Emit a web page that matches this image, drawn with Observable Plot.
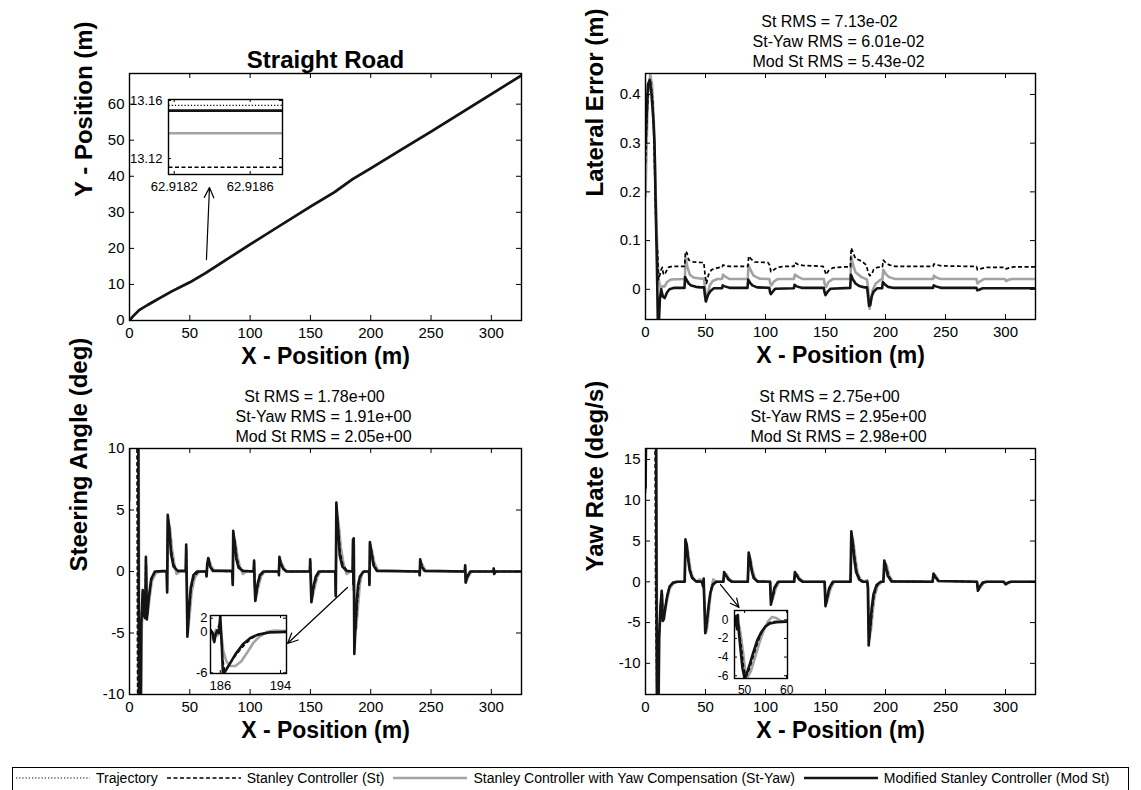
<!DOCTYPE html>
<html><head><meta charset="utf-8">
<script src="https://cdn.jsdelivr.net/npm/d3@7"></script>
<script src="https://cdn.jsdelivr.net/npm/@observablehq/plot@0.6"></script>
<style>
html,body{margin:0;padding:0;background:#fff;}
#fig{position:relative;width:1141px;height:790px;overflow:hidden;background:#fff;font-family:"Liberation Sans",Arial,Helvetica,sans-serif;}
#fig svg{position:absolute;}
#legend{position:absolute;left:12px;top:767px;width:1117px;height:34px;border:1px solid #000;background:#fff;display:flex;align-items:flex-start;box-sizing:border-box;padding:0 0 0 3px;white-space:nowrap;font-size:14px;line-height:20px;}
#legend .item{display:flex;align-items:center;margin-right:9px;}
#legend .item svg{position:static;margin-right:6px;}
</style></head><body><div id="fig"></div>
<script>
// ---------------- DATA ----------------
const seriesNames = ["Trajectory", "Stanley Controller (St)", "Stanley Controller with Yaw Compensation (St-Yaw)", "Modified Stanley Controller (Mod St)"];
const xTicksMain = [0, 50, 100, 150, 200, 250, 300];

// Straight road
const roadX = [0, 3, 8, 15, 25, 35, 50, 63, 80, 100, 120, 150, 170, 185, 200, 225, 250, 275, 300, 325];
const roadY = [0, 1.2, 2.9, 4.3, 6.2, 8.1, 10.6, 13.15, 16.8, 21.1, 25.3, 31.6, 35.6, 39.2, 42.2, 47.3, 52.4, 57.6, 62.8, 68.0];
const roadYTicks = [0, 10, 20, 30, 40, 50, 60];
// road inset (zoom near x = 62.918)
const roadInsetX = [62.91817, 62.91877];
const roadInsetTraj = [13.1566, 13.1566];
const roadInsetSt = [13.114, 13.114];
const roadInsetStYaw = [13.1374, 13.1374];
const roadInsetMod = [13.153, 13.153];
const roadInsetXTicks = [62.9182, 62.9186];
const roadInsetYTicks = [13.12, 13.16];
const roadArrow = [{x1: 63.8, y1: 16.9, x2: 66.3, y2: 36.9}];

// Lateral error
const latRms = ["St RMS = 7.13e-02", "St-Yaw RMS = 6.01e-02", "Mod St RMS = 5.43e-02"];
const latYTicks = [0, 0.1, 0.2, 0.3, 0.4];
const latMod = [[0,0.30],[1,0.36],[2,0.42],[3.5,0.43],[5,0.40],[6.5,0.35],[7.5,0.30],[8.5,0.17],[9.5,0.05],[10.3,-0.066],[11.2,-0.066],[12,-0.02],[13,0.0],[14.5,-0.015],[16,-0.018],[18,-0.006],[20,0.0],[24,0.003],
[32.5,0.003],[33,0.025],[34,0.02],[36,0.012],[38,0.008],[42,0.005],[46,0.004],
[48.8,0.004],[49.5,-0.012],[50.3,-0.025],[52,-0.012],[54,-0.004],[57,0.002],
[63.8,0.002],[64.3,0.008],[66,0.006],[70,0.003],
[85,0.003],[85.6,0.02],[87,0.014],[89,0.008],[93,0.004],
[103.2,0.003],[103.8,-0.006],[104.5,-0.01],[106,-0.005],[108,0.001],
[123.6,0.002],[124.2,0.009],[126,0.006],[130,0.003],
[148.6,0.003],[149.2,-0.006],[150,-0.012],[151.5,-0.006],[154,0.001],
[170.6,0.003],[171.2,0.03],[172.5,0.022],[175,0.012],[178,0.007],[182,0.004],
[184.6,0.004],[185.3,-0.01],[186.3,-0.034],[187.3,-0.032],[188.5,-0.015],[190,-0.005],[193,0.002],
[197.2,0.002],[197.8,0.015],[199.5,0.01],[202,0.005],[206,0.003],
[239.6,0.003],[240.2,0.008],[242,0.006],[246,0.003],
[275.8,0.003],[276.5,-0.002],[278,-0.001],[281,0.002],
[325,0.002]];
const latStYaw = [[0,0.19],[1,0.3],[2,0.4],[4,0.44],[5.5,0.42],[7,0.34],[8,0.25],[9,0.15],[10,0.07],[11,0.02],[12,0.008],[13,0.0],[14,0.006],[16,0.006],[18,0.015],[21,0.02],
[32.8,0.021],[33.4,0.065],[35,0.045],[37,0.03],[40,0.024],[46,0.022],
[48.8,0.022],[49.6,0.0],[50.6,-0.025],[52,-0.008],[53.5,0.008],[56,0.017],[60,0.021],
[63.8,0.021],[64.6,0.03],[66.5,0.026],[70,0.021],
[85.2,0.021],[85.8,0.05],[87.5,0.04],[90,0.028],[95,0.022],
[103.2,0.021],[104,0.012],[105,0.008],[107,0.016],[110,0.021],
[123.6,0.021],[124.5,0.03],[127,0.026],[131,0.021],
[148.6,0.021],[149.4,0.01],[150.5,0.005],[152.5,0.015],[156,0.021],
[170.8,0.021],[171.4,0.068],[173,0.05],[175,0.035],[180,0.025],
[184.6,0.02],[185.6,0.0],[186.8,-0.04],[188,-0.02],[189.5,0.0],[192,0.012],[196,0.02],
[197.4,0.02],[198.2,0.04],[200,0.032],[203,0.025],[208,0.021],
[239.6,0.021],[240.4,0.028],[242.5,0.024],[246,0.021],
[275.8,0.021],[276.6,0.012],[278.5,0.016],[282,0.021],
[299.5,0.021],[300.5,0.017],[302,0.019],[305,0.021],
[325,0.021]];
const latSt = [[0,0.26],[1,0.34],[2.5,0.42],[4,0.43],[6,0.39],[7,0.32],[8,0.2],[9,0.1],[10,0.08],[10.8,0.02],[12,0.03],[13,0.04],[14,0.045],[15,0.03],[16.5,0.033],[19,0.045],[22,0.047],
[32.6,0.047],[33.3,0.078],[34.5,0.075],[36,0.06],[40,0.056],[47,0.055],
[48.6,0.055],[49.6,0.03],[50.8,0.012],[52.5,0.03],[55,0.04],[60,0.044],[64,0.046],
[64.6,0.05],[67,0.048],[70,0.047],
[85.3,0.047],[86,0.068],[88,0.062],[91,0.056],[102,0.055],
[103.4,0.05],[104.5,0.036],[107,0.04],[110,0.045],[115,0.047],
[123.6,0.047],[124.5,0.055],[127,0.051],[131,0.049],[148,0.047],
[149.2,0.04],[150.5,0.03],[152.5,0.038],[156,0.044],[165,0.046],
[170.8,0.046],[171.4,0.085],[173,0.075],[175,0.063],[180,0.058],[184,0.05],
[185.5,0.035],[186.8,0.028],[188.5,0.03],[190,0.04],[193,0.045],
[197.4,0.046],[198.2,0.06],[200,0.055],[203,0.05],[208,0.047],
[239.6,0.047],[240.4,0.052],[243,0.05],[247,0.048],[270,0.047],
[275.8,0.047],[276.6,0.04],[279,0.042],[284,0.045],
[299.5,0.045],[300.5,0.042],[303,0.044],[307,0.046],
[325,0.046]];

// Steering angle
const steerRms = ["St RMS = 1.78e+00", "St-Yaw RMS = 1.91e+00", "Mod St RMS = 2.05e+00"];
const steerYTicks = [-10, -5, 0, 5, 10];
const steerMod = [[0,12],[7.3,12],[7.8,-12],[9.2,-12],[9.8,-4.2],[11,-1.5],[12,-3.6],[13,-3.8],[13.6,1.2],[14.4,-3.9],[16,-2.1],[18,-0.6],[21,0.0],
[30.8,0.05],[31.2,-1.7],[31.7,4.6],[33,3.4],[34.5,1.4],[36.5,0.4],[40,0.05],
[46.6,0.05],[47,2.2],[47.4,-0.8],[48,-5.3],[49.2,-3.2],[50.8,-1.3],[53,-0.3],[56,0.0],
[63.5,0.0],[63.9,-0.4],[64.4,0.6],[65.3,1.1],[66.8,0.4],[69,0.05],
[85.2,0.05],[85.6,-1.1],[86,3.3],[87.3,2.2],[88.6,1.0],[90.5,0.3],[94,0.05],
[102.9,0.0],[103.3,0.9],[103.7,-1.0],[104.3,-2.4],[105.8,-1.2],[108,-0.3],[111,0.0],
[123.6,0.0],[123.9,-0.3],[124.3,1.2],[125.5,0.6],[127.5,0.2],[130,0.0],
[149.5,0.0],[149.8,1.0],[150.2,-0.6],[150.8,-2.5],[152.3,-1.3],[154.5,-0.4],[157,0.0],
[170.6,0.0],[171.0,-2.0],[171.5,5.6],[172.8,3.6],[174.3,1.3],[176.5,0.4],[180,0.05],
[185.0,0.0],[185.3,2.6],[185.6,-1.0],[185.9,2.7],[186.4,-6.7],[187.5,-4.2],[188.5,-2.3],[189.5,-1.1],[191,-0.4],[194,0.0],
[198.6,0.0],[198.9,-1.1],[199.3,2.4],[200.6,1.5],[202.3,0.5],[205,0.05],
[240.3,0.0],[240.6,-0.3],[241,1.0],[242.3,0.4],[244.5,0.05],
[278.0,0.0],[278.3,0.5],[278.7,-0.9],[280,-0.4],[282.5,0.0],
[301.7,0.0],[302,0.25],[302.3,-0.2],[303.5,0.0],
[325,0.0]];
const steerStYaw = [[0,5.8],[0.4,12],[7.6,12],[8.2,-12],[9.6,-12],[10.2,-4.5],[11.5,-2],[12.5,-3.2],[13.5,-3],[14,0.5],[15,-3.5],[16.5,-2.3],[18.5,-0.8],[22,-0.1],[26,0],
[30.9,0],[31.3,-1.5],[31.9,4.2],[33.5,3.6],[35,2.0],[37,0.7],[39,-0.2],[42,0],
[46.7,0],[47.1,1.8],[47.6,-1],[48.3,-5.0],[49.8,-3.6],[51.5,-1.7],[54,-0.5],[58,0],
[63.6,0],[64,-0.3],[64.6,0.5],[65.8,1.0],[67.5,0.5],[70,0.1],
[85.3,0],[85.7,-0.9],[86.2,3.0],[87.8,2.4],[89.5,1.2],[91.5,0.4],[94,-0.2],[97,0],
[103,0],[103.4,0.7],[103.9,-0.8],[104.7,-2.2],[106.5,-1.4],[109,-0.4],[112,0],
[123.7,0],[124.4,1.0],[126,0.7],[128.5,0.2],[131,0],
[149.6,0],[150,0.8],[150.5,-0.5],[151.2,-2.3],[153,-1.5],[155.5,-0.5],[158,0],
[170.7,0],[171.1,-1.8],[171.7,5.0],[173.5,3.8],[175.2,2.0],[177.5,0.6],[180,-0.2],[183,0],
[185.1,0],[185.4,2.3],[185.7,-1.5],[186,2.2],[186.6,-5.0],[188,-4.6],[189.5,-2.8],[191,-1.0],[193,-0.1],[195,0],
[198.7,0],[199,-1.0],[199.5,2.2],[201,1.7],[203,0.7],[206,0.1],
[240.4,0],[240.7,-0.3],[241.2,0.8],[243,0.5],[245.5,0.05],
[278.1,0],[278.4,0.4],[278.9,-0.9],[280.5,-0.5],[283.5,0],
[301.8,0],[302.1,0.2],[302.5,-0.2],[304,0],
[325,0]];
const steerSt = [[0,12],[6.2,12],[6.8,-12],[9,-12],[9.7,-4],[11,-1.6],[12,-3.4],[13,-3.7],[13.5,1.0],[14.3,-3.7],[16,-2.2],[18,-0.7],[21,-0.05],[25,0],
[30.8,0],[31.2,-1.6],[31.8,4.4],[33.2,3.5],[34.8,1.6],[36.8,0.5],[40,0.05],
[46.6,0],[47,2.0],[47.5,-0.8],[48.1,-5.1],[49.4,-3.4],[51,-1.4],[53.5,-0.4],[57,0],
[63.5,0],[63.9,-0.4],[64.5,0.55],[65.5,1.05],[67,0.45],[69.5,0.05],
[85.2,0],[85.6,-1.0],[86.1,3.1],[87.5,2.3],[89,1.1],[91,0.35],[94.5,0.05],
[102.9,0],[103.3,0.8],[103.8,-0.9],[104.5,-2.3],[106,-1.3],[108.5,-0.35],[111.5,0],
[123.6,0],[123.9,-0.3],[124.35,1.1],[125.7,0.65],[128,0.2],[130.5,0],
[149.5,0],[149.8,0.9],[150.3,-0.6],[151,-2.4],[152.6,-1.4],[155,-0.45],[157.5,0],
[170.6,0],[171,-1.9],[171.6,5.3],[173,3.7],[174.6,1.6],[177,0.5],[180.5,0.05],
[185,0],[185.3,2.4],[185.6,-1.2],[185.95,2.5],[186.5,-5.9],[187.6,-4.5],[188.8,-2.6],[190,-1.2],[191.5,-0.4],[194.5,0],
[198.6,0],[198.9,-1.0],[199.4,2.3],[200.8,1.6],[202.6,0.6],[205.5,0.05],
[240.3,0],[240.6,-0.3],[241.1,0.9],[242.6,0.45],[245,0.05],
[278,0],[278.3,0.45],[278.8,-0.9],[280.2,-0.45],[283,0],
[301.7,0],[302,0.2],[302.4,-0.2],[303.8,0],
[325,0]];
// steering inset (x 184.7..194.8)
const steerInsetMod = [[184.7,0.3],[185.0,-0.2],[185.2,-1.5],[185.4,-0.3],[185.6,0.2],[185.8,-0.2],[186.0,2.3],[186.2,-2],[186.35,-6.2],[186.6,-5.9],[187.2,-4.8],[188,-3.3],[189,-1.8],[190,-0.9],[191,-0.4],[192.5,-0.1],[194.8,0]];
const steerInsetStYaw = [[184.7,0.1],[185.1,-1.2],[185.4,0.3],[185.7,-0.5],[186.0,1.0],[186.4,-2.8],[186.8,-4.3],[187.3,-5.0],[188.0,-5.0],[188.8,-4.3],[189.6,-3.0],[190.4,-1.6],[191.2,-0.7],[192.2,0.0],[193.2,0.2],[194.8,0.1]];
const steerInsetSt = [[184.7,0.2],[185.2,-1.4],[185.5,0],[186.0,1.5],[186.3,-4],[186.6,-5.7],[187.3,-4.6],[188.2,-3.2],[189.2,-1.9],[190.2,-0.9],[191.3,-0.3],[192.8,0.0],[194.8,0]];
const steerInsetXTicks = [186, 194];
const steerInsetYTicks = [-6, 0, 2];
const steerArrow = [{x1: 180.7, y1: -1.3, x2: 131, y2: -5.85}];

// Yaw rate
const yawRms = ["St RMS = 2.75e+00", "St-Yaw RMS = 2.95e+00", "Mod St RMS = 2.98e+00"];
const yawYTicks = [-10, -5, 0, 5, 10, 15];
const yawMod = [[0,11.5],[0.4,18],[8.8,18],[9.5,-15],[10.8,-15],[11.3,-7],[12.5,-3],[13.5,-1.1],[14.3,-4.8],[15.3,-4.6],[16.5,-3.2],[18,-1.8],[20,-0.6],[23,-0.1],[26,0],
[32.6,0],[33.3,5.2],[34.2,4.6],[35.3,3.0],[36.8,1.4],[38.8,0.5],[42,0.05],
[47,0],[48,-0.6],[48.5,0.4],[48.8,-1.5],[49.8,-6.3],[51.2,-4.8],[52.5,-3],[54,-1.4],[56,-0.4],[59,0],
[64.8,0],[65.5,1.2],[67,0.8],[69,0.3],[72,0],
[85.2,0],[86,3.6],[87,2.8],[88.3,1.5],[90,0.5],[93,0.05],
[103.8,0],[104.5,-2.8],[105.7,-1.9],[107.5,-0.7],[110.5,0],
[123.8,0],[124.5,1.2],[126,0.8],[128,0.3],[131,0],
[149.2,0],[150,-3.0],[151.3,-2.0],[153,-0.8],[156,0],
[170.8,0],[171.5,6.2],[172.5,5.0],[174,2.8],[175.5,1.2],[178,0.3],[181,0],
[184.8,0],[185.3,-0.8],[186,-7.8],[187.2,-5.5],[188.5,-3.2],[190,-1.5],[192.5,-0.4],[196,0],
[198.2,0],[199,2.6],[200.3,1.8],[202,0.7],[205,0.05],
[239.2,0],[240,1.0],[241.5,0.6],[244,0.1],
[276.2,0],[277,-1.1],[278.5,-0.6],[281,-0.1],[284,0],
[298.5,0],[300,-0.3],[302,-0.1],[304,0],
[325,0]];
const yawStYaw = [[0,11],[0.6,18],[9,18],[9.8,-15],[11,-15],[11.6,-6.5],[13,-2.5],[14,-1.5],[15,-4.3],[16.5,-3.5],[18,-2.2],[20,-0.9],[23,-0.2],[27,0],
[32.8,0],[33.6,4.8],[34.8,4.4],[36,3.0],[37.5,1.5],[39.5,0.5],[43,0],
[45,0.3],[47,0.2],[48.5,-0.5],[49.5,-3.5],[50.5,-6.2],[51.5,-5.5],[52.5,-4],[53.5,-2.5],[54.5,-1.2],[55.5,-0.3],[56.5,0.3],[58,0.1],[60,0],
[65,0],[65.8,1.0],[67.5,0.9],[69.5,0.4],[73,0],
[85.4,0],[86.3,3.2],[87.6,2.8],[89,1.6],[91,0.5],[94,0],
[104,0],[104.9,-2.5],[106.3,-2.0],[108.5,-0.8],[111.5,0],
[124,0],[124.9,1.0],[126.5,0.9],[128.5,0.4],[132,0],
[149.4,0],[150.4,-2.7],[152,-2.1],[154,-0.9],[157,0],
[171,0],[171.9,5.6],[173.2,5.0],[174.8,3.0],[176.5,1.3],[179,0.3],[182,0],
[184.8,0.2],[185.6,-0.6],[186.5,-7.0],[188,-5.8],[189.5,-3.5],[191,-1.7],[193.5,-0.5],[197,0],
[198.4,0],[199.4,2.4],[201,2.0],[203,0.8],[206,0.05],
[239.4,0],[240.4,0.9],[242,0.7],[244.5,0.1],
[276.4,0],[277.4,-1.0],[279,-0.7],[282,-0.1],[285,0],
[298.8,0],[300.5,-0.3],[302.5,-0.15],[305,0],
[325,0]];
const yawSt = [[0,11.5],[0.5,18],[8,18],[8.4,-1],[9.6,-15],[10.9,-15],[11.4,-6.8],[12.7,-2.8],[13.7,-1.3],[14.6,-4.6],[16,-3.4],[17.5,-2],[19.5,-0.8],[22.5,-0.15],[26,0],
[32.7,0],[33.4,5.0],[34.5,4.5],[35.6,3.0],[37.2,1.4],[39.2,0.5],[42.5,0.05],
[47,0.1],[48.5,-0.5],[49.2,-2.8],[49.8,-5.3],[50.4,-6.1],[51.2,-5.2],[52.2,-3.7],[53.2,-2.3],[54.2,-1.2],[55.2,-0.5],[56.5,-0.2],[59,0],
[64.9,0],[65.6,1.1],[67.2,0.85],[69.3,0.35],[72.5,0],
[85.3,0],[86.1,3.4],[87.3,2.8],[88.6,1.55],[90.5,0.5],[93.5,0.05],
[103.9,0],[104.7,-2.65],[106,-1.95],[108,-0.75],[111,0],
[123.9,0],[124.7,1.1],[126.2,0.85],[128.3,0.35],[131.5,0],
[149.3,0],[150.2,-2.85],[151.6,-2.05],[153.5,-0.85],[156.5,0],
[170.9,0],[171.7,5.9],[172.8,5.0],[174.4,2.9],[176,1.25],[178.5,0.3],[181.5,0],
[184.8,0.1],[185.4,-0.7],[186.2,-7.4],[187.6,-5.6],[189,-3.3],[190.5,-1.6],[193,-0.45],[196.5,0],
[198.3,0],[199.2,2.5],[200.6,1.9],[202.5,0.75],[205.5,0.05],
[239.3,0],[240.2,0.95],[241.8,0.65],[244.3,0.1],
[276.3,0],[277.2,-1.05],[278.8,-0.65],[281.5,-0.1],[284.5,0],
[298.6,0],[300.2,-0.3],[302.2,-0.12],[304.5,0],
[325,0]];
// yaw inset (x 47.6..60.2)
const yawInsetMod = [[47.6,0.2],[47.8,-0.6],[48.0,0.4],[48.2,-1.0],[48.4,0.5],[48.6,-1.2],[49.0,-3.0],[49.5,-5.2],[50.0,-6.3],[50.5,-5.8],[51.2,-4.8],[52.0,-3.6],[53.0,-2.2],[54.0,-1.3],[55.0,-0.7],[56.0,-0.4],[57.5,-0.25],[60.2,-0.2]];
const yawInsetStYaw = [[47.6,0.1],[48.2,-0.2],[48.8,-0.8],[49.5,-3.0],[50.2,-5.6],[50.8,-6.1],[51.5,-5.5],[52.5,-4.0],[53.5,-2.5],[54.5,-1.2],[55.5,-0.2],[56.5,0.3],[57.5,0.2],[58.5,-0.1],[60.2,-0.2]];
const yawInsetSt = [[47.6,0.1],[48.5,-0.5],[49.2,-2.8],[49.8,-5.3],[50.4,-6.1],[51.2,-5.2],[52.2,-3.7],[53.2,-2.3],[54.2,-1.2],[55.2,-0.5],[56.5,-0.2],[60.2,-0.2]];
const yawInsetXTicks = [50, 60];
const yawInsetYTicks = [-6, -4, -2, 0];
const yawArrow = [{x1: 62.5, y1: -0.33, x2: 77.9, y2: -3.15}];

// ---------------- RENDER ----------------
const FONT = '"Liberation Sans", Arial, Helvetica, sans-serif';
const fmt = d => String(d);
const xy = a => a.map(([x, y]) => ({x, y}));
const zipXY = (xs, ys) => xs.map((x, i) => ({x, y: ys[i]}));
const ST = {
  traj: {stroke: "#000", strokeWidth: 1.2, strokeDasharray: "1.2,2", strokeLinecap: "butt"},
  st: {stroke: "#000", strokeWidth: 1.7, strokeDasharray: "4,2.5", strokeLinecap: "butt"},
  yaw: {stroke: "#a3a3a3", strokeWidth: 2.6},
  mod: {stroke: "#141414", strokeWidth: 2.6}
};
const fig = document.getElementById("fig");
function place(svg, left, top) { svg.style.left = left + "px"; svg.style.top = top + "px"; fig.appendChild(svg); }
function lineMarks(series) { return series.map(([data, s]) => Plot.line(data, {x: "x", y: "y", clip: true, ...s})); }
function innerTicks(xd, yd, xt, yt, fw, fh, len) {
  const dx = len * (xd[1] - xd[0]) / fw, dy = len * (yd[1] - yd[0]) / fh;
  const t = {stroke: "#000", strokeWidth: 1};
  return [
    Plot.ruleX(xt, {x: d => d, y1: yd[0], y2: yd[0] + dy, ...t}),
    Plot.ruleX(xt, {x: d => d, y1: yd[1], y2: yd[1] - dy, ...t}),
    Plot.ruleY(yt, {y: d => d, x1: xd[0], x2: xd[0] + dx, ...t}),
    Plot.ruleY(yt, {y: d => d, x1: xd[1], x2: xd[1] - dx, ...t})
  ];
}
function panel(o) {
  const [fl, ft, fw, fh] = o.frame;
  const mL = o.mL, mT = o.mT, mR = 20, mB = 58;
  const titles = (o.rms || []).map((s, i) => Plot.text([s], {frameAnchor: "top", dy: [-58, -38, -18][i], dx: i === 0 ? -11 : -2, text: d => d, fontSize: 16}));
  if (o.title) titles.push(Plot.text([o.title], {frameAnchor: "top", dy: -23, text: d => d, fontSize: 24, fontWeight: "bold"}));
  const svg = Plot.plot({
    width: mL + fw + mR, height: mT + fh + mB,
    marginLeft: mL, marginTop: mT, marginRight: mR, marginBottom: mB,
    x: {domain: o.xDomain}, y: {domain: o.yDomain},
    style: {fontFamily: FONT, fontSize: "15px", color: "#000", background: "transparent", overflow: "visible"},
    marks: [
      Plot.axisX({ticks: o.xTicks, tickSize: 0, tickPadding: 7, tickFormat: fmt, label: null}),
      Plot.axisY({ticks: o.yTicks, tickSize: 0, tickPadding: 5, tickFormat: fmt, label: null}),
      ...lineMarks(o.series),
      ...innerTicks(o.xDomain, o.yDomain, o.xTicks, o.yTicks, fw, fh, 5),
      Plot.frame({stroke: "#000", strokeWidth: 1.4}),
      ...(o.extra || []),
      Plot.text([o.xLabel], {frameAnchor: "bottom", dy: 43, text: d => d, fontSize: 23, fontWeight: "bold"}),
      Plot.text([o.yLabel], {frameAnchor: "left", dx: o.yLabelDx, rotate: -90, text: d => d, fontSize: 24, fontWeight: "bold"}),
      ...titles
    ]
  });
  place(svg, fl - mL, ft - mT);
}
function inset(o) {
  const [fl, ft, fw, fh] = o.frame;
  const mL = 45, mT = 10, mR = 10, mB = 26;
  const svg = Plot.plot({
    width: mL + fw + mR, height: mT + fh + mB,
    marginLeft: mL, marginTop: mT, marginRight: mR, marginBottom: mB,
    x: {domain: o.xDomain}, y: {domain: o.yDomain},
    style: {fontFamily: FONT, fontSize: o.fontSize + "px", color: "#000", background: "transparent", overflow: "visible"},
    marks: [
      Plot.frame({fill: "#fff"}),
      Plot.axisX({ticks: o.xTicks, tickSize: 0, tickPadding: 7, tickFormat: fmt, label: null}),
      Plot.axisY({ticks: o.yTicks, tickSize: 0, tickPadding: o.yPad, tickFormat: fmt, label: null}),
      ...lineMarks(o.series),
      ...innerTicks(o.xDomain, o.yDomain, o.xTicks, o.yTicks, fw, fh, 3),
      Plot.frame({stroke: "#000", strokeWidth: 1.4})
    ]
  });
  place(svg, fl - mL, ft - mT);
}
const arrowOpts = {x1: "x1", y1: "y1", x2: "x2", y2: "y2", stroke: "#000", strokeWidth: 1.2, headLength: 14, headAngle: 50};

// Straight road
const road = zipXY(roadX, roadY);
panel({frame: [129, 73, 392, 247], mL: 129, mT: 73, xDomain: [0, 325], yDomain: [0, 68.5],
  xTicks: xTicksMain, yTicks: roadYTicks,
  series: [[road, ST.traj], [road, ST.st], [road, ST.yaw], [road, ST.mod]],
  extra: [Plot.arrow(roadArrow, arrowOpts)],
  title: "Straight Road", xLabel: "X - Position (m)", yLabel: "Y - Position (m)", yLabelDx: -45});
// Lateral error
panel({frame: [645, 73, 390, 246], mL: 85, mT: 73, xDomain: [0, 325], yDomain: [-0.062, 0.443],
  xTicks: xTicksMain, yTicks: latYTicks,
  series: [[xy(latStYaw), ST.yaw], [xy(latSt), ST.st], [xy(latMod), ST.mod]],
  rms: latRms, xLabel: "X - Position (m)", yLabel: "Lateral Error (m)", yLabelDx: -50});
// Steering angle
panel({frame: [129, 448, 392, 246], mL: 129, mT: 68, xDomain: [0, 325], yDomain: [-10, 10],
  xTicks: xTicksMain, yTicks: steerYTicks,
  series: [[xy(steerStYaw), ST.yaw], [xy(steerSt), ST.st], [xy(steerMod), ST.mod]],
  extra: [Plot.arrow(steerArrow, arrowOpts)],
  rms: steerRms, xLabel: "X - Position (m)", yLabel: "Steering Angle (deg)", yLabelDx: -50});
// Yaw rate
panel({frame: [645, 448, 390, 246], mL: 85, mT: 68, xDomain: [0, 325], yDomain: [-13.82, 16.35],
  xTicks: xTicksMain, yTicks: yawYTicks,
  series: [[xy(yawStYaw), ST.yaw], [xy(yawSt), ST.st], [xy(yawMod), ST.mod]],
  extra: [Plot.arrow(yawArrow, {...arrowOpts, headLength: 12})],
  rms: yawRms, xLabel: "X - Position (m)", yLabel: "Yaw Rate (deg/s)", yLabelDx: -50});

// Insets
inset({frame: [168, 99, 114, 75], xDomain: [62.91817, 62.91877], yDomain: [13.109, 13.1607],
  xTicks: roadInsetXTicks, yTicks: roadInsetYTicks, yPad: 6, fontSize: 13,
  series: [[zipXY(roadInsetX, roadInsetTraj), ST.traj], [zipXY(roadInsetX, roadInsetMod), ST.mod],
           [zipXY(roadInsetX, roadInsetStYaw), ST.yaw], [zipXY(roadInsetX, roadInsetSt), ST.st]]});
inset({frame: [210, 615, 76, 58], xDomain: [184.7, 194.8], yDomain: [-6.1, 2.4],
  xTicks: steerInsetXTicks, yTicks: steerInsetYTicks, yPad: 3, fontSize: 13,
  series: [[xy(steerInsetStYaw), ST.yaw], [xy(steerInsetSt), ST.st], [xy(steerInsetMod), ST.mod]]});
inset({frame: [734, 610, 53, 68], xDomain: [47.6, 60.2], yDomain: [-6.3, 1.0],
  xTicks: yawInsetXTicks, yTicks: yawInsetYTicks, yPad: 6, fontSize: 12,
  series: [[xy(yawInsetStYaw), ST.yaw], [xy(yawInsetSt), ST.st], [xy(yawInsetMod), ST.mod]]});

// Legend
const legendKeys = ["traj", "st", "yaw", "mod"];
const leg = document.createElement("div");
leg.id = "legend";
seriesNames.forEach((name, i) => {
  const s = ST[legendKeys[i]];
  const item = document.createElement("span");
  item.className = "item";
  item.innerHTML = `<svg width="74" height="20"><line x1="0" y1="10" x2="74" y2="10" stroke="${s.stroke}" stroke-width="${s.strokeWidth}" ${s.strokeDasharray ? `stroke-dasharray="${s.strokeDasharray}"` : ""}/></svg><span>${name}</span>`;
  leg.appendChild(item);
});
fig.appendChild(leg);
</script></body></html>
